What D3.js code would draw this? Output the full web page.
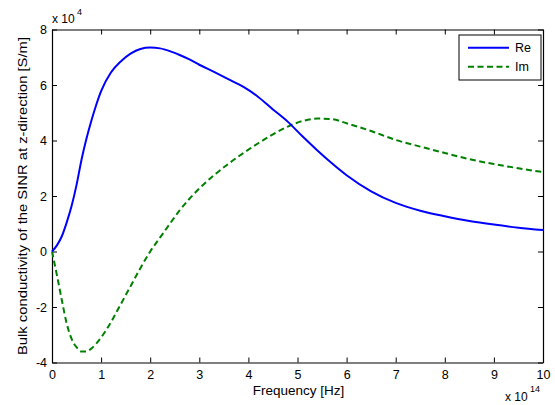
<!DOCTYPE html>
<html>
<head>
<meta charset="utf-8">
<script src="https://cdn.jsdelivr.net/npm/d3@7"></script>
<style>
  body { margin: 0; background: #fff; }
  svg { display: block; font-family: "Liberation Sans", Arial, sans-serif; }
</style>
</head>
<body>
<div id="chart"></div>
<script>
// frequency in units of 1e14 Hz, conductivity in units of 1e4 S/m
const freq = [0, 0.1, 0.2, 0.3, 0.4, 0.5, 0.6, 0.7, 0.8, 0.9, 1.0, 1.2, 1.4, 1.6, 1.8, 2.0, 2.2, 2.4, 2.6, 2.8,
  3.0, 3.3, 3.6, 3.9, 4.2, 4.5, 4.8, 5.1, 5.4, 5.7, 6.0, 6.5, 7.0, 7.5, 8.0, 8.5, 9.0, 9.5, 10];
const reValues = [0, 0.22, 0.55, 1.05, 1.65, 2.4, 3.3, 4.05, 4.7, 5.28, 5.78, 6.45, 6.85, 7.13, 7.3, 7.35, 7.32, 7.22, 7.08, 6.92,
  6.73, 6.47, 6.2, 5.93, 5.57, 5.12, 4.68, 4.15, 3.65, 3.18, 2.75, 2.17, 1.75, 1.47, 1.27, 1.1, 0.97, 0.86, 0.77];
const imValues = [0, -0.85, -1.75, -2.6, -3.15, -3.45, -3.6, -3.6, -3.5, -3.32, -3.1, -2.55, -1.9, -1.25, -0.6, 0.0, 0.5, 1.0, 1.48, 1.9,
  2.27, 2.75, 3.17, 3.55, 3.9, 4.22, 4.5, 4.7, 4.79, 4.77, 4.62, 4.34, 4.02, 3.78, 3.55, 3.33, 3.15, 3.0, 2.86];
const xTicks = [0, 1, 2, 3, 4, 5, 6, 7, 8, 9, 10];
const yTicks = [-4, -2, 0, 2, 4, 6, 8];
const seriesNames = ["Re", "Im"];

const width = 555, height = 405;
const plotLeft = 52, plotRight = 543, plotTop = 29.5, plotBottom = 362.5;

const svg = d3.select("#chart")
  .append("svg")
    .attr("width", width)
    .attr("height", height);

svg.append("rect")
  .attr("width", width)
  .attr("height", height)
  .attr("fill", "#fff");

const x = d3.scaleLinear().domain([0, 10]).range([plotLeft, plotRight]);
const y = d3.scaleLinear().domain([-4, 8]).range([plotBottom, plotTop]);

// axes, ticks pointing inward like matlab
const xAxis = d3.axisBottom(x).tickValues(xTicks).tickSizeInner(-5).tickSizeOuter(0).tickPadding(8);
const yAxis = d3.axisLeft(y).tickValues(yTicks).tickSizeInner(-5).tickSizeOuter(0).tickPadding(5)
  .tickFormat(d => d < 0 ? "-" + Math.abs(d) : d);

svg.append("g")
  .attr("transform", `translate(0,${plotBottom})`)
  .call(xAxis);

svg.append("g")
  .attr("transform", `translate(${plotLeft},0)`)
  .call(yAxis);

svg.append("g")
  .attr("transform", `translate(0,${plotTop})`)
  .call(d3.axisTop(x).tickValues(xTicks).tickSizeInner(-5).tickSizeOuter(0).tickFormat(""));

svg.append("g")
  .attr("transform", `translate(${plotRight},0)`)
  .call(d3.axisRight(y).tickValues(yTicks).tickSizeInner(-5).tickSizeOuter(0).tickFormat(""));

svg.selectAll(".domain").attr("stroke", "#000").attr("stroke-width", 1.2);
svg.selectAll(".tick line").attr("stroke", "#000");
svg.selectAll(".tick text").attr("font-size", 12.5).attr("fill", "#000")
  .style("font-family", "'Liberation Sans', Arial, sans-serif");

// curves
const reData = freq.map((f, i) => ({ f, v: reValues[i] }));
const imData = freq.map((f, i) => ({ f, v: imValues[i] }));

const line = d3.line()
  .x(d => x(d.f))
  .y(d => y(d.v))
  .curve(d3.curveMonotoneX);

svg.append("path")
  .datum(imData)
  .attr("fill", "none")
  .attr("stroke", "#008000")
  .attr("stroke-width", 2)
  .attr("stroke-dasharray", "6,3.5")
  .attr("d", line);

svg.append("path")
  .datum(reData)
  .attr("fill", "none")
  .attr("stroke", "#0000ff")
  .attr("stroke-width", 2)
  .attr("d", line);

// labels
svg.append("text")
  .attr("x", 298.5)
  .attr("y", 395)
  .attr("text-anchor", "middle")
  .attr("font-size", 13.5)
  .text("Frequency [Hz]");

svg.append("text")
  .attr("transform", "rotate(-90)")
  .attr("x", -196)
  .attr("y", 27)
  .attr("text-anchor", "middle")
  .attr("font-size", 13.5)
  .attr("textLength", 318)
  .attr("lengthAdjust", "spacingAndGlyphs")
  .text("Bulk conductivity of the SINR at z-direction [S/m]");

// exponent markers
svg.append("text").attr("x", 52).attr("y", 23).attr("font-size", 12).text("x 10");
svg.append("text").attr("x", 77).attr("y", 15).attr("font-size", 9).text("4");
svg.append("text").attr("x", 505).attr("y", 401).attr("font-size", 12).text("x 10");
svg.append("text").attr("x", 530).attr("y", 392).attr("font-size", 9).text("14");

// legend
const legend = svg.append("g");
legend.append("rect")
  .attr("x", 459).attr("y", 35)
  .attr("width", 82).attr("height", 45)
  .attr("fill", "#fff").attr("stroke", "#000").attr("stroke-width", 1);

const legendColors = ["#0000ff", "#008000"];
const legendDash = [null, "6,3.5"];
seriesNames.forEach((name, i) => {
  const ly = 47.7 + i * 19;
  legend.append("line")
    .attr("x1", 468).attr("x2", 509)
    .attr("y1", ly).attr("y2", ly)
    .attr("stroke", legendColors[i])
    .attr("stroke-width", 2)
    .attr("stroke-dasharray", legendDash[i]);
  legend.append("text")
    .attr("x", 515).attr("y", ly + 4)
    .attr("font-size", 12.5)
    .text(name);
});
</script>
</body>
</html>
